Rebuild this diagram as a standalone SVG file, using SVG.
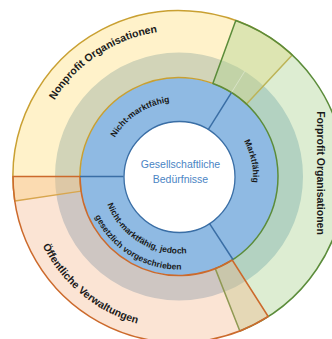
<svg xmlns="http://www.w3.org/2000/svg" width="332" height="339" viewBox="0 0 332 339">
  <style>
    .sec { stroke-width: 1.5; stroke-linejoin: round; }
    .lbl { font-family: "Liberation Sans", Arial, sans-serif; font-weight: bold; fill: #1a1a1a; }
    .big { font-size: 10.5px; }
    .small { font-size: 8.5px; }
    .center { font-family: "Liberation Sans", Arial, sans-serif; font-size: 10.5px; fill: #4A84C4; text-anchor: middle; }
    .div { stroke: #3A6EA5; stroke-width: 1.5; fill: none; }
  </style>
  <defs>
    <path id="tpNonprofit" d="M39.01,135.04 A146,146 0 0 1 195.53,31.44"/>
    <path id="tpOeff" d="M28.56,204.38 A153,153 0 0 0 180.34,329.49"/>
    <path id="tpNicht" d="M107.28,154.57 A75,75 0 0 1 188.14,102.06"/>
    <path id="tpMarkt" d="M224.56,118.19 A74,74 0 0 1 244.34,211.24"/>
    <path id="tpL1" d="M102.84,187.88 A77,77 0 0 0 203.43,249.52"/>
    <path id="tpL2" d="M87.02,190.25 A93,93 0 0 0 208.51,264.69"/>
  </defs>
  <rect width="332" height="339" fill="#ffffff"/>

  <g id="ring-blue">
    <circle cx="179" cy="176.5" r="99" fill="#8FBAE3"/>
  </g>
  <g id="ring-band">
    <circle cx="179" cy="176.5" r="111.5" fill="none" stroke="#BAD2E3" stroke-width="25"/>
  </g>

  <g id="sector-nonprofit">
    <path class="sec" d="M14.82,201.04 A166,166 0 0 1 292.21,55.10 L246.52,104.10 A99,99 0 0 0 81.09,191.13 Z" fill="#FFD966" fill-opacity="0.35" stroke="#C9A032"/>
  </g>
  <g id="sector-forprofit">
    <path class="sec" d="M235.78,20.51 A166,166 0 0 1 239.84,330.95 L215.28,268.61 A99,99 0 0 0 212.86,83.47 Z" fill="#A9D18E" fill-opacity="0.4" stroke="#5B8C3A"/>
  </g>
  <g id="sector-oeffentlich">
    <path class="sec" d="M268.19,316.50 A166,166 0 0 1 13,176.5 L80,176.5 A99,99 0 0 0 232.19,260.00 Z" fill="#F4B183" fill-opacity="0.35" stroke="#CC6A2C"/>
  </g>

  <line x1="231.46" y1="92.54" x2="244.71" y2="71.34" stroke="#ffffff" stroke-opacity="0.35" stroke-width="1"/>

  <g id="center">
    <circle cx="179.5" cy="177" r="55.5" fill="#ffffff" stroke="#3A6EA5" stroke-width="1.3"/>
    <text class="center" x="180.5" y="168.3">Gesellschaftliche</text>
    <text class="center" x="180.5" y="183.3">Bedürfnisse</text>
  </g>

  <g id="connectors">
    <line class="div" x1="123.5" y1="176.5" x2="80" y2="176.5"/>
    <line class="div" x1="208.41" y1="129.43" x2="231.46" y2="92.54"/>
    <line class="div" x1="209.23" y1="223.05" x2="232.92" y2="259.53"/>
  </g>

  <g id="labels-outer">
    <text class="lbl big"><textPath href="#tpNonprofit" startOffset="50%" text-anchor="middle">Nonprofit Organisationen</textPath></text>
    <text class="lbl big"><textPath href="#tpOeff" startOffset="50%" text-anchor="middle">Öffentliche Verwaltungen</textPath></text>
    <text class="lbl big" text-anchor="middle" transform="translate(316.5,173) rotate(90)">Forprofit Organisationen</text>
  </g>
  <g id="labels-inner">
    <text class="lbl small"><textPath href="#tpNicht" startOffset="50%" text-anchor="middle">Nicht-marktfähig</textPath></text>
    <text class="lbl small"><textPath href="#tpMarkt" startOffset="50%" text-anchor="middle">Marktfähig</textPath></text>
    <text class="lbl small"><textPath href="#tpL1" startOffset="50%" text-anchor="middle">Nicht-marktfähig, jedoch</textPath></text>
    <text class="lbl small"><textPath href="#tpL2" startOffset="50%" text-anchor="middle">gesetzlich vorgeschrieben</textPath></text>
  </g>
</svg>
